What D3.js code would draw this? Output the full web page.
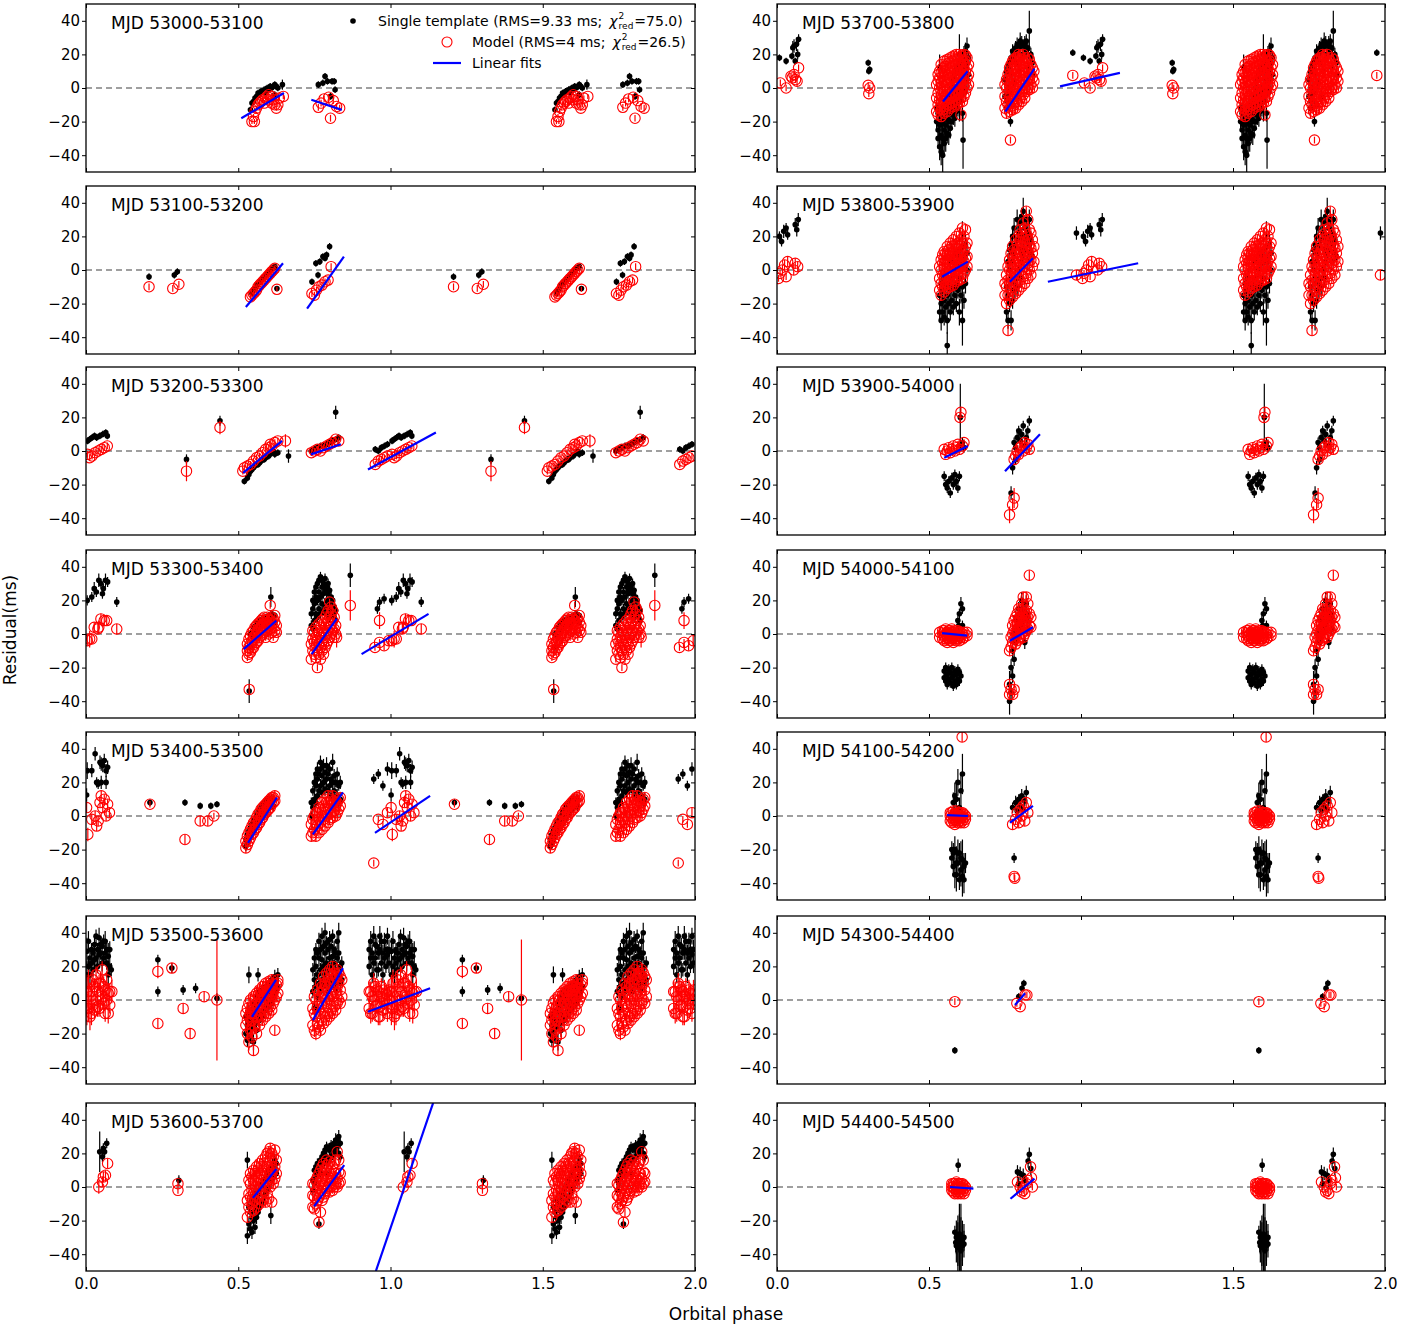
<!DOCTYPE html>
<html><head><meta charset="utf-8">
<script src="https://cdn.jsdelivr.net/npm/d3@7"></script>
<style>body{margin:0;background:#fff}svg text{font-family:"DejaVu Sans",sans-serif}</style>
</head><body><svg id="c" width="1427" height="1329"></svg>
<script>
// ---------- DATA: each row = [orbital phase (0-1), error (ms), residual values (ms) ...]; plotted at phase and phase+1 ----------
const yTicks=[-40,-20,0,20,40];
const xTicks=[0,0.5,1,1.5,2];
const xTickLabels=["0.0","0.5","1.0","1.5","2.0"];
const panelLabels=["MJD 53000-53100","MJD 53100-53200","MJD 53200-53300","MJD 53300-53400","MJD 53400-53500","MJD 53500-53600","MJD 53600-53700",
"MJD 53700-53800","MJD 53800-53900","MJD 53900-54000","MJD 54000-54100","MJD 54100-54200","MJD 54300-54400","MJD 54400-54500"];

const black_53000=[[0.54,2,-13],[0.545,2,-9],[0.55,2,-8],[0.555,2,-6],[0.56,2,-5],[0.565,2,-3],[0.57,2,-4],[0.575,2,-2],[0.58,2,-2],[0.585,2,-1],[0.59,2,-3],[0.595,2,0],[0.6,2,-1],[0.605,2,1],[0.61,2,0],[0.615,2,1],[0.62,2,2,-4],[0.625,2,1],[0.63,2,0],[0.645,3,2],
[0.763,2,2],[0.778,2,3],[0.785,2,7],[0.793,2,4],[0.808,2,4],[0.815,2,4],[0.818,2,-1],[0.803,2,-5]];
const red_53000=[[0.545,1.5,-20],[0.553,1.5,-20],[0.55,1.5,-17],[0.555,1.5,-14],[0.56,1.5,-12],[0.565,1.5,-10],[0.57,1.5,-9],[0.575,1.5,-8],[0.58,1.5,-7],[0.585,1.5,-9],[0.59,1.5,-6],[0.595,1.5,-5],[0.6,1.5,-4,-7],[0.61,1.5,-5,-9],[0.615,1.5,-7],[0.62,1.5,-10],[0.625,1.5,-12],[0.63,1.5,-10],[0.635,1.5,-6],[0.648,1.5,-5],
[0.763,2,-11.5],[0.772,2,-9],[0.782,2,-6.5],[0.797,2,-5.5],[0.803,2,-18],[0.812,2,-7.5],[0.823,2,-11],[0.833,2,-12]];
const fits_53000=[[0.51,-18,0.65,-3],[0.74,-7,0.84,-13]];

const black_53100=[[0.207,2,-4],[0.29,2,-3],[0.3,2,-1],
[0.545,1.5,-14],[0.55,1.5,-12],[0.555,1.5,-11],[0.56,1.5,-9],[0.565,1.5,-8],[0.57,1.5,-7],[0.575,1.5,-6],[0.58,1.5,-5],[0.585,1.5,-4],[0.59,1.5,-3],[0.595,1.5,-2],[0.6,1.5,-1],[0.605,1.5,0],[0.61,1.5,1],[0.615,1.5,1],[0.62,1.5,2],[0.627,1.5,-11],
[0.742,2,-7],[0.755,2,4],[0.762,2,-3],[0.768,2,5],[0.778,2,8],[0.785,2,7],[0.79,2,9],[0.8,2,14]];
const red_53100=[[0.207,2,-10],[0.285,2,-11],[0.305,2,-8.5],
[0.54,1.5,-16],[0.545,1.5,-15],[0.55,1.5,-14],[0.555,1.5,-13],[0.56,1.5,-12],[0.565,1.5,-10],[0.57,1.5,-9],[0.575,1.5,-8],[0.58,1.5,-7],[0.585,1.5,-6],[0.59,1.5,-5],[0.595,1.5,-4],[0.6,1.5,-3],[0.605,1.5,-2],[0.61,1.5,-1],[0.615,1.5,0],[0.62,1.5,1],[0.627,1.5,-11.5],
[0.742,2,-14],[0.75,2,-15],[0.757,2,-12],[0.765,2,-10],[0.775,2,-9],[0.785,2,-7],[0.795,2,-6],[0.805,2,2]];
const fits_53100=[[0.525,-22,0.647,4],[0.726,-23,0.847,8]];

const black_53200=[[0.005,2,6],[0.012,2,7],[0.02,2,8],[0.028,2,9],[0.035,2,8],[0.045,2,9],[0.055,2,10],[0.065,2,11],[0.07,2,9],
[0.33,3,-5],[0.44,3,18],
[0.52,2,-18],[0.53,2,-16],[0.535,2,-14],[0.54,2,-12],[0.545,2,-11],[0.55,2,-10],[0.555,2,-9],[0.56,2,-8],[0.565,2,-8],[0.57,2,-7],[0.575,2,-6],[0.58,2,-5],[0.585,2,-5],[0.59,2,-4],[0.595,2,-3],[0.6,2,-3],[0.605,2,-2],[0.61,2,-1],[0.615,2,0],[0.62,2,-2],[0.63,2,-1],[0.665,4,-3],
[0.74,2,0],[0.75,2,1],[0.76,2,2],[0.77,2,3],[0.78,2,3],[0.79,2,4],[0.8,2,5],[0.81,2,6],[0.82,2,7],[0.83,2,8],[0.82,4,23],
[0.95,2,1],[0.96,2,0],[0.97,2,2],[0.98,2,3],[0.99,2,4]];
const red_53200=[[0.005,2,-2],[0.012,2,-4],[0.02,2,-3],[0.03,2,-1],[0.04,2,0],[0.05,2,1],[0.06,2,2],[0.07,2,3],
[0.33,6,-12],[0.44,4,14],
[0.515,2,-12],[0.52,2,-10],[0.53,2,-9],[0.54,2,-8],[0.55,2,-6],[0.56,2,-4],[0.57,2,-3],[0.58,2,-1],[0.59,2,1],[0.6,2,2],[0.605,2,4],[0.61,2,3],[0.62,2,5],[0.63,2,6],[0.655,4,6],
[0.74,2,-1],[0.75,2,0],[0.76,2,1],[0.77,2,0],[0.78,2,2],[0.79,2,3],[0.8,2,4],[0.81,2,5],[0.82,2,7],[0.83,2,6],
[0.95,2,-8],[0.96,2,-6],[0.97,2,-5],[0.98,2,-4],[0.99,2,-3]];
const fits_53200=[[0.516,-13,0.644,6],[0.739,-2,0.837,4],[0.926,-11,1.149,11]];

const black_53300=[[0.004,3,20],[0.019,3,22],[0.027,4,27],[0.034,3,25],[0.042,4,32],[0.049,3,30],[0.054,3,24],[0.057,3,27],[0.064,4,32],[0.071,3,31],[0.101,3,19],
[0.957,3,15],[0.964,3,19],[0.979,3,21],
[0.536,7,-34],[0.54,2,-8,0],[0.55,2,-2,4],[0.56,2,2,6],[0.57,2,4,8],[0.58,2,5,9],[0.59,2,6,10],[0.6,2,8,11],[0.607,6,22],[0.61,2,9,12],[0.62,2,7,11],
[0.74,3,5,12],[0.745,3,3,15,20],[0.75,3,8,18,25],[0.755,3,12,22,28],[0.76,3,10,20,30],[0.765,3,15,25,32],[0.77,3,12,22,34],[0.775,3,18,28,32],[0.78,3,14,24,30],[0.785,3,16,26,33],[0.79,3,12,20,28],[0.795,3,15,24,30],[0.8,3,10,18,26],[0.805,3,14,22],[0.81,3,12,20],[0.815,3,10,16],[0.82,3,8,14],[0.868,7,35]];
const red_53300=[[0.004,3,-4],[0.012,5,-3],[0.019,3,-3],[0.027,3,4],[0.039,3,3],[0.042,4,4],[0.049,3,9],[0.06,3,8],[0.068,3,8],[0.101,3,3],
[0.949,2,-8],[0.964,2,-5],[0.964,5,8],[0.979,3,-7],[0.994,3,-4],
[0.53,2,-14,-10,-6],[0.535,2,-12,-8,-3],[0.536,3,-33],[0.54,2,-11,-6,-1],[0.545,2,-9,-4,1],[0.55,2,-8,-3,2],[0.555,2,-6,-1,4],[0.56,2,-5,0,5],[0.565,2,-4,1,6],[0.57,2,-2,3,7],[0.575,2,-1,4,8],[0.58,2,0,5,9],[0.585,2,1,6,10],[0.59,2,-2,3,8],[0.595,2,2,6,10],[0.6,2,0,5,9],[0.605,2,3,8,17],[0.61,2,1,6,10],[0.615,2,-2,4,9],[0.62,2,2,7,11],[0.625,2,1,5],
[0.74,2,-15,-6],[0.745,2,-10,-3,2],[0.75,2,-12,-5,1],[0.755,2,-14,-8,-2,4],[0.76,2,-20,-10,-4,2],[0.765,2,-12,-6,0,6],[0.77,2,-15,-8,-2,4],[0.775,2,-10,-4,2,8],[0.78,2,-12,-6,0,6],[0.785,2,-8,-2,4,10],[0.79,2,-6,0,6,12],[0.795,2,-4,2,8,14],[0.8,2,-2,4,10,19],[0.805,2,0,6,12,16],[0.81,2,2,8,14],[0.815,2,-2,3,10],[0.82,2,0,5],[0.823,6,-2],[0.868,9,17]];
const fits_53300=[[0.518,-9,0.625,8],[0.741,-12,0.823,9],[0.905,-12,1.125,12]];

const black_53400=[[0.002,4,12.5],[0.004,5,27],[0.019,4,27],[0.03,4,37],[0.035,3,20],[0.046,4,32],[0.05,4,31,20],[0.055,4,30],[0.06,4,33],[0.066,4,27,20],[0.071,4,29],[0.04,3,19],
[0.21,2,8],[0.325,2,8],[0.375,2,6],[0.41,2,6],[0.43,2,7],
[0.945,3,22],[0.96,3,25],[0.975,3,18],[0.99,4,28],
[0.525,3,-18,-14],[0.53,3,-16,-11],[0.535,3,-14,-9],[0.54,3,-12,-7],[0.545,3,-10,-5],[0.55,3,-9,-3],[0.555,3,-7,-2],[0.56,3,-6,0],[0.565,3,-4,2],[0.57,3,-3,3],[0.575,3,-1,5],[0.58,3,0,6],[0.585,3,2,7],[0.59,3,3,8],[0.595,3,4,9],[0.6,3,5,10],[0.605,3,6,9],[0.61,3,7,10],[0.615,3,6,10],
[0.74,3,0,8],[0.745,3,5,15],[0.75,4,10,20],[0.755,3,8,18,25],[0.76,4,12,22,28],[0.765,3,15,25],[0.77,4,18,28,32],[0.775,3,14,24],[0.78,4,20,30],[0.785,4,16,26],[0.79,5,22,30],[0.795,3,15,25],[0.8,4,18,28],[0.805,3,12,22],[0.81,5,20,32],[0.815,4,15,24],[0.82,3,10,20],[0.825,4,12,25],[0.83,3,8,18],[0.835,4,10,20]];
const red_53400=[[0.002,3,5],[0.006,4,-11],[0.019,3,-2],[0.03,3,0],[0.035,3,-6],[0.04,3,-3],[0.046,3,8],[0.05,3,12],[0.055,3,5],[0.06,3,10],[0.066,3,0],[0.071,3,7],[0.077,3,2],
[0.21,2,7],[0.325,3,-14],[0.375,3,-3],[0.4,3,-3],[0.42,2,0],
[0.945,2,-28],[0.96,2,-2],[0.975,2,-5],[0.99,3,2],
[0.525,3,-19,-15],[0.53,3,-17,-12],[0.535,3,-15,-10],[0.54,3,-13,-8],[0.545,3,-11,-6],[0.55,3,-10,-4],[0.555,3,-8,-3],[0.56,3,-7,-1],[0.565,3,-5,1],[0.57,3,-4,2],[0.575,3,-2,4],[0.58,3,-1,5],[0.585,3,1,6],[0.59,3,2,7],[0.595,3,3,8],[0.6,3,4,9],[0.605,3,5,10],[0.61,3,7,11],[0.615,3,8,11],[0.62,3,9,12],
[0.74,3,-12,-5],[0.745,3,-10,-2],[0.75,3,-8,0],[0.755,3,-12,-4,2],[0.76,3,-6,2],[0.765,3,-10,-2,5],[0.77,3,-4,4],[0.775,3,-8,0,8],[0.78,3,-2,6],[0.785,3,-6,2,10],[0.79,3,0,8],[0.795,3,-4,4,12],[0.8,3,-2,6],[0.805,3,2,10],[0.81,3,-1,7,12],[0.815,3,3,9],[0.82,3,0,6],[0.825,3,2,8],[0.83,3,4,10],[0.835,3,6,11]];
const fits_53400=[[0.532,-16,0.627,11],[0.745,-11,0.844,14],[0.949,-10,1.13,12]];

const black_53500=[[0.003,8,29,15],[0.008,6,20,35],[0.013,5,15,25],[0.018,4,22,30],[0.023,4,28,18],[0.028,5,33,24],[0.033,4,25,38],[0.038,4,30,20],[0.043,6,37,27],[0.048,4,28,33],[0.053,5,32,22],[0.058,4,25,35],[0.063,6,35,28],[0.068,4,22,30],[0.073,8,15,26],[0.078,5,30,20],[0.083,4,18],
[0.236,3,24,5],[0.282,3,19],[0.319,3,6],[0.36,3,7],[0.43,3,1],
[0.525,4,-20,-10],[0.53,4,-24,-15],[0.535,5,-18,-8,15],[0.54,4,-22,-12],[0.545,4,-16,-6],[0.55,5,-25,-12,-2],[0.555,4,-14,-4],[0.56,4,-18,-8,2],[0.565,4,-10,0,15],[0.57,3,-12,-2,5],[0.575,3,-8,2],[0.58,3,-10,0,6],[0.585,3,-5,4],[0.59,3,-6,2,8],[0.595,3,-2,6],[0.6,3,-4,4,10],[0.605,3,0,8],[0.61,3,-2,6,12],[0.615,3,2,10],[0.62,4,4,14],[0.625,3,6,12],[0.63,4,8,15],
[0.745,4,5,18],[0.75,4,-5,12,25],[0.755,4,8,20,30],[0.76,3,2,15,28],[0.765,5,10,25,35],[0.77,4,5,18,30],[0.775,5,12,24,38],[0.78,4,8,20,32],[0.785,6,15,28,40],[0.79,4,10,22,34],[0.795,3,5,18,30],[0.8,5,12,25,36],[0.805,4,8,20,32],[0.81,4,14,26,38],[0.815,5,10,22,30],[0.82,4,6,18,28],[0.825,5,12,25,35],[0.83,6,15,28,40],[0.835,4,10,20],[0.84,4,12,22],
[0.93,5,20,30],[0.935,6,35,25],[0.94,5,28,15],[0.945,6,38,22],[0.95,5,25,33],[0.955,5,32,18],[0.96,4,18,28],[0.965,6,30,38],[0.97,5,22,35],[0.975,5,28,15],[0.98,5,35,25],[0.985,4,20,30],[0.99,5,27,38],[0.995,6,30,22]];
const red_53500=[[0.003,10,5,-5],[0.008,8,-5,10],[0.013,8,2,-10],[0.018,7,-8,5],[0.023,6,-3,12],[0.028,5,8,-6],[0.033,5,0,15],[0.038,6,5,-4],[0.043,5,-5,10],[0.048,6,10,0],[0.053,5,2,18],[0.058,6,-2,8],[0.063,5,6,-8],[0.068,5,0,12],[0.073,6,-8,4],[0.078,5,5,-3],[0.085,7,5],
[0.236,4,17],[0.236,3,-14],[0.282,3,19],[0.319,3,-5],[0.342,3,-20],[0.388,3,2],[0.43,36,0],
[0.525,4,-15,-8],[0.53,4,-20,-12,-5],[0.535,5,-25,-10,-2],[0.54,4,-18,-8,0],[0.545,4,-22,-12,-4],[0.55,3,-30,-15,-6,2],[0.555,4,-16,-8,0],[0.56,4,-20,-10,-2,4],[0.565,3,-12,-4,3],[0.57,4,-15,-6,2,6],[0.575,3,-10,-2,5],[0.58,3,-12,-4,3,8],[0.585,3,-8,0,6],[0.59,3,-10,-2,5,10],[0.595,3,-6,2,8],[0.6,3,-8,0,6,11],[0.605,3,-4,3,9],[0.61,3,-6,2,8,12],[0.615,3,-2,5,10],[0.62,3,-18,0,7],[0.625,3,2,9],[0.63,3,4,10,12],
[0.745,4,-15,-5],[0.75,4,-18,-8,2],[0.755,4,-20,-10,0],[0.76,4,-14,-4,6],[0.765,4,-16,-6,4],[0.77,3,-18,-8,2,10],[0.775,4,-12,-2,8],[0.78,3,-14,-4,6,14],[0.785,4,-10,0,10],[0.79,3,-12,-2,8,16],[0.795,3,-8,2,12],[0.8,3,-10,0,10,18],[0.805,4,-6,4,15],[0.81,3,-8,2,12,20],[0.815,3,-4,6,16],[0.82,3,-6,4,14],[0.825,4,-2,8,18],[0.83,3,0,10,16],[0.835,3,-2,6,14],[0.84,4,2,12],
[0.93,6,-5,5],[0.935,6,5,-8],[0.94,5,-8,2],[0.945,6,0,10],[0.95,5,8,-4],[0.955,5,-3,6],[0.96,5,5,-10],[0.965,5,-10,2],[0.97,5,2,8],[0.975,5,-2,-6],[0.98,6,6,0],[0.985,5,-5,4],[0.99,5,3,-8],[0.995,6,0,6]];
const fits_53500=[[0.545,-10,0.624,12],[0.745,-12,0.844,19],[0.926,-7,1.13,7]];

const black_53600=[[0.045,12,21],[0.054,3,18],[0.057,3,23],[0.061,3,21],[0.068,3,26],
[0.305,3,4],
[0.53,5,16,-29],[0.535,4,-22,-12],[0.54,4,-25,-15],[0.545,4,-27,-18,-8],[0.55,4,-20,-10],[0.555,4,-24,-14,-4],[0.56,4,-18,-8],[0.565,3,-15,-5],[0.57,3,-12,-2],[0.575,3,-10,0],[0.58,3,-8,2],[0.585,3,-6,4],[0.59,3,-4,6],[0.595,3,-2,8],[0.6,3,0,10],[0.607,5,-17],[0.61,3,4,12],[0.615,3,6,14],[0.62,4,10,16],[0.625,3,8,14],
[0.745,3,4,-2],[0.75,3,2,10],[0.755,3,5,12],[0.76,3,8,14],[0.765,3,-22,10],[0.77,3,8,16],[0.775,3,12,18],[0.78,3,14,20],[0.785,3,16,22],[0.79,3,8,18,24],[0.795,3,15,23],[0.8,3,16,22],[0.805,3,18,25],[0.81,3,19,24],[0.815,3,20,26],[0.82,4,22,28],[0.825,3,24,28],[0.83,4,20,30],[0.835,3,18,26]];
const red_53600=[[0.042,4,0],[0.054,3,3],[0.057,3,6],[0.064,3,7],[0.071,3,14],
[0.302,2,2,-2],
[0.53,3,-18,-8],[0.535,3,-12,-4,4],[0.54,3,-15,-6,2,8],[0.545,3,-10,-2,6],[0.55,3,-14,-4,4,10],[0.555,3,-8,0,8],[0.56,4,-12,-2,6,12],[0.565,3,-6,2,10],[0.57,3,-10,0,8,14],[0.575,3,-4,4,12],[0.58,3,-8,2,10,16],[0.585,3,-2,6,14],[0.59,3,-9,0,8,18],[0.595,3,-4,4,12,20],[0.6,3,-7,2,10,21],[0.605,3,0,8,16,23],[0.61,3,-9,4,12,20],[0.615,3,2,10,18],[0.62,3,5,12,22],[0.625,3,8,16],
[0.745,2,-12,-5,2],[0.75,2,-13,-6,1],[0.755,2,-10,-3,4],[0.76,2,-8,-1,6],[0.765,3,-21,-6,1,8],[0.77,3,-15,-4,3,10],[0.775,2,-8,-2,5,12],[0.78,2,-6,0,7,14],[0.785,2,-4,2,9],[0.79,2,-2,4,11,16],[0.795,2,0,6,13],[0.8,2,-3,2,8,15],[0.805,2,0,5,10],[0.81,2,-2,4,12],[0.815,2,0,6,14],[0.82,2,2,8,16],[0.825,2,0,5,21],[0.83,2,2,9,16],[0.835,2,3,8]];
const fits_53600=[[0.548,-6.5,0.625,10.7],[0.749,-11.5,0.848,13],[0.952,-50,1.14,50]];

const black_53700=[[0.008,2,18],[0.03,2,16],[0.049,2,19],[0.052,4,24],[0.056,4,25],[0.064,4,26],[0.068,3,20],[0.071,3,29],[0.06,2,16],
[0.973,2,21],[0.3,2,15],[0.302,2,10],[0.305,2,11],
[0.525,5,-20,-12],[0.53,6,-25,-15,-30],[0.535,8,-22,-35,12],[0.54,8,-28,-18,-38],[0.545,10,-30,-20,-40],[0.55,8,-25,-33,-15],[0.555,8,-22,-30,-12],[0.56,6,-18,-27,-8],[0.565,6,-20,-10,-28],[0.57,6,-15,-24,-5],[0.575,5,-12,-20,0],[0.58,6,-16,-8,5],[0.585,5,-10,-18,8],[0.59,5,-6,-14,10],[0.595,5,-12,-3,12],[0.6,12,20,-8,0],[0.605,5,-5,5,15],[0.61,5,-15,2,18],[0.612,17,-31],[0.615,5,0,10,20],[0.62,5,-2,12,22],[0.625,5,5,15,25],[0.63,4,8,18],
[0.75,4,-5,5],[0.755,5,-12,10],[0.76,4,12,0,-8],[0.765,4,15,-3],[0.768,3,-20],[0.77,4,8,18],[0.775,4,18,22,-10],[0.78,4,3,20],[0.785,4,15,24],[0.79,4,22,26,-5],[0.795,4,10,24],[0.8,5,25,28],[0.805,4,17,27],[0.81,4,20,25],[0.815,5,26,22],[0.82,4,22,28],[0.825,4,12,24],[0.83,12,34],[0.835,4,18,20],[0.84,4,8,15]];
const red_53700=[[0.011,2,3],[0.03,2,0],[0.046,2,7],[0.05,2,6],[0.056,2,8],[0.061,2,5],[0.066,3,4],[0.071,2,12],
[0.973,2,7.5],[0.3,2,1.6],[0.302,2,-3.4],[0.305,2,0],
[0.525,3,-14,-6,2],[0.53,3,-16,-10,-3,4,8],[0.535,3,-12,-7,0,6,10],[0.54,3,-17,-9,-4,3,9,14],[0.545,3,-13,-6,1,7,12],[0.55,3,-15,-8,-2,4,10,16],[0.555,3,-11,-5,2,8,13],[0.56,3,-14,-7,-1,5,11,17],[0.565,3,-10,-4,3,9,15],[0.57,3,-12,-6,0,6,12,18],[0.575,3,-9,-3,4,10,16],[0.58,3,-11,-5,1,7,13,19],[0.585,3,-8,-2,5,11,17],[0.59,3,-10,-4,2,8,14,20],[0.595,3,-7,-1,6,12,18],[0.6,3,-9,-3,3,9,15,20],[0.605,3,-16,-6,0,7,13,19],[0.61,3,-8,-2,4,10,16],[0.615,3,-5,1,8,14,20],[0.62,3,-3,3,10,16,19.5],[0.625,3,0,6,12,18],[0.63,3,2,8,14],
[0.75,3,-12,-5,2],[0.755,3,-15,-8,0,5],[0.76,3,-10,-3,4,8],[0.765,3,-14,-6,1,7,12],[0.768,2,-31],[0.77,3,-11,-4,3,10,14],[0.775,3,-13,-7,0,6,12,16],[0.78,3,-9,-2,5,11,17],[0.785,3,-12,-5,2,8,14,18],[0.79,3,-8,-1,6,12,18],[0.795,3,-10,-3,4,10,16,20],[0.8,3,-6,0,7,13,19],[0.805,3,-8,-2,5,11,17],[0.81,3,-4,2,9,15,20],[0.815,3,-6,0,7,13,18],[0.82,3,-2,4,10,16],[0.825,3,0,6,12,18],[0.83,3,-1,5,11,17],[0.835,3,2,8,14],[0.84,3,0,6,12],[0.845,3,4,10]];
const fits_53700=[[0.546,-8,0.627,10],[0.751,-14,0.847,11.5],[0.931,1,1.128,9]];

const black_53800=[[0.008,3,20],[0.015,3,17],[0.022,4,23],[0.03,3,25],[0.035,3,21],[0.06,4,27],[0.065,4,24],[0.07,4,30],[0.985,4,22],
[0.535,5,-15,-25],[0.54,6,-20,-8,-30],[0.545,6,-25,-12],[0.55,5,-18,-28,-5],[0.555,5,-22,-10],[0.56,8,-30,-15,-45],[0.565,5,-20,-8],[0.57,5,-25,-12,5],[0.575,6,-18,-5],[0.58,5,-22,-10,8],[0.585,5,-15,0],[0.59,5,-20,-8,10],[0.595,5,-12,4],[0.6,8,-25,-5,12],[0.605,5,-15,8],[0.61,15,-30,-10,14],[0.615,5,-18,5],[0.62,6,-8,15],[0.625,4,0,10],
[0.755,6,-25,-10],[0.76,5,-30,-15,5],[0.765,5,-20,0,12],[0.77,6,-30,-8,15],[0.775,5,-18,5,20],[0.78,6,-12,10,25],[0.785,5,-5,15],[0.79,6,-10,18,30],[0.795,5,0,22],[0.8,5,-5,12,28],[0.805,5,5,20,32],[0.81,8,10,35],[0.815,5,12,25],[0.82,5,18,30],[0.825,5,5,22],[0.83,6,15,30],[0.835,5,10,18],[0.84,4,8]];
const red_53800=[[0.005,2,-5],[0.01,2,-2],[0.018,3,0],[0.025,3,3],[0.03,2,-4],[0.035,3,5],[0.055,3,0],[0.06,3,4],[0.068,3,2],[0.985,3,-3],
[0.535,3,-12,-5,2],[0.54,3,-15,-8,0,6],[0.545,3,-10,-3,4,9],[0.55,3,-13,-6,1,7,11],[0.555,3,-9,-2,5,10],[0.56,3,-11,-4,3,9,14],[0.565,3,-8,-1,6,12],[0.57,3,-10,-3,4,10,16],[0.575,3,-6,1,8,14],[0.58,3,-9,-2,5,11,18],[0.585,3,-5,2,9,15],[0.59,3,-7,0,7,13,20],[0.595,3,-4,3,10,16],[0.6,3,-6,1,8,14,22],[0.605,3,-3,4,11,18],[0.61,3,-5,2,9,16,25],[0.615,3,-2,5,12,20],[0.62,3,0,7,14,24],[0.625,3,2,8,16],
[0.75,3,-15,-8],[0.755,3,-20,-10,-3],[0.76,3,-36,-15,-6,2],[0.765,3,-18,-8,0,6],[0.77,3,-12,-4,3,10],[0.775,3,-16,-6,1,8,14],[0.78,3,-10,-2,5,12],[0.785,3,-14,-4,3,10,18],[0.79,3,-8,0,7,15],[0.795,3,-12,-2,5,12,20],[0.8,3,-6,2,9,17,24],[0.805,3,-10,0,7,14,22],[0.81,3,-4,4,11,19,28],[0.815,3,-8,2,9,16,25],[0.82,3,-2,6,13,21,35],[0.825,3,-5,4,11,18,30],[0.83,3,0,8,15,24],[0.835,3,-3,6,13,22],[0.84,3,2,10,18],[0.845,3,5,14]];
const fits_53800=[[0.543,-4,0.628,5],[0.766,-7,0.842,7],[0.891,-7,1.188,4]];

const black_53900=[[0.55,3,-15],[0.555,3,-20],[0.56,3,-22],[0.565,3,-18],[0.57,3,-25],[0.575,3,-16],[0.58,3,-20],[0.585,3,-14],[0.59,3,-18],[0.595,3,-22],[0.6,3,-15],[0.603,20,20],[0.605,3,3],[0.61,3,5],[0.615,3,2],
[0.77,4,-25],[0.775,4,-10],[0.78,3,5],[0.785,3,2,-5],[0.79,3,8],[0.795,3,12],[0.8,3,6],[0.805,3,10],[0.81,3,15],[0.815,3,3],[0.82,3,8],[0.825,3,12],[0.83,3,18]];
const red_53900=[[0.55,2,1],[0.555,2,-2],[0.56,2,0],[0.565,2,2],[0.57,2,-1],[0.575,2,1],[0.58,2,3],[0.585,2,0],[0.59,2,2],[0.595,2,4],[0.6,2,1],[0.605,3,23],[0.61,2,3],[0.615,2,5],[0.602,3,20],
[0.765,5,-38],[0.775,4,-32],[0.78,3,-5],[0.785,3,-3],[0.79,3,0],[0.795,3,-2],[0.8,3,2],[0.805,3,3],[0.81,3,0],[0.815,3,5],[0.82,3,2],[0.825,3,4],[0.83,3,1],[0.78,6,-28]];
const fits_53900=[[0.55,-4,0.628,3],[0.75,-12,0.865,10]];

const black_54000=[[0.55,3,-22,-26],[0.555,3,-20,-28],[0.56,3,-24,-30],[0.565,3,-21,-27],[0.57,3,-23,-29],[0.575,3,-20,-26],[0.58,3,-25,-31],[0.585,3,-22,-28],[0.59,3,-24,-30],[0.595,3,-21,-27,8],[0.6,3,-23,-28,12],[0.605,4,-25,18],[0.61,3,15,5],[0.598,3,5],
[0.765,8,-40,-30],[0.77,5,-35,-20],[0.775,4,-25,-10],[0.78,4,-15,0],[0.785,4,-5,10],[0.79,4,0,5],[0.795,4,8,15],[0.8,4,5,12],[0.805,5,12,20],[0.81,4,8,15],[0.815,4,-5,10],[0.82,5,12,18],[0.825,4,3,10]];
const red_54000=[[0.535,2,-2,1],[0.545,2,-3,0,2],[0.55,2,-4,-1,2],[0.555,2,-3,0,3],[0.56,2,-5,-2,1],[0.565,2,-3,0,2],[0.57,2,-4,-1,2],[0.575,2,-3,0,3],[0.58,2,-5,-2,1],[0.585,2,-3,0,2],[0.59,2,-4,-1,2],[0.595,2,-3,0,2],[0.6,2,-4,-1,1],[0.605,2,-2,1],[0.61,2,-3,0],[0.615,2,-2,1],[0.625,2,-1,1],
[0.765,3,-36,-30,-10],[0.77,3,-33,-8,-2],[0.775,3,-36,-5,0,5],[0.78,3,-33,-3,2,8],[0.785,3,-6,0,5,10],[0.79,3,-4,2,7,12],[0.795,3,-2,4,9,15],[0.8,3,-3,3,8,14],[0.805,3,0,5,11,18],[0.81,3,-2,4,10,15,22],[0.815,3,0,6,12],[0.82,3,2,8,14,22],[0.825,3,3,10,18],[0.83,3,5,12,35],[0.835,3,4,10]];
const fits_54000=[[0.543,0.5,0.625,-1],[0.766,-4,0.842,4]];

const black_54100=[[0.575,5,-25,-20],[0.58,6,-30,-22,8],[0.585,8,-20,-35,12],[0.59,10,-35,-28,10],[0.595,8,-28,-22,20],[0.6,6,-22,-38,5],[0.605,10,-32,-25,15],[0.61,12,-26,-36,25],[0.615,8,-38,-30],[0.62,6,-28],
[0.78,3,-25],[0.775,3,5],[0.785,4,8],[0.79,3,3],[0.795,3,10],[0.8,3,6],[0.805,4,12],[0.81,3,4],[0.815,3,9],[0.82,4,14]];
const red_54100=[[0.57,2,-3,0,2],[0.575,2,-4,-1,2],[0.58,2,-3,0,3],[0.585,2,-5,-2,1],[0.59,2,-3,0,3],[0.595,2,-4,-1,2],[0.6,2,-3,0,2],[0.605,2,-4,-1,2],[0.61,2,-3,0,2],[0.615,2,-4,-1,1],[0.62,2,-2,0],[0.609,3,47],
[0.78,2,-36],[0.782,2,-37],[0.775,3,-5],[0.785,3,-2],[0.79,3,2],[0.795,3,-4],[0.8,3,4],[0.805,3,0],[0.81,3,6],[0.815,3,-3],[0.82,3,8],[0.825,3,2]];
const fits_54100=[[0.559,0.5,0.628,0],[0.766,-4,0.842,6]];

const black_54300=[[0.585,2,-30],[0.806,2,7],[0.812,2,10],[0.795,2,2]];
const red_54300=[[0.585,2,-1],[0.789,2,-2],[0.8,2,-4],[0.816,2,3],[0.822,2,3]];
const fits_54300=[[0.783,-3,0.816,4]];

const black_54400=[[0.596,4,13],[0.585,4,-27],[0.588,6,-33],[0.59,10,-30,-35],[0.595,15,-32,-36],[0.6,18,-28,-34],[0.605,20,-30,-38],[0.61,12,-32,-35],[0.615,8,-30,-34],
[0.791,4,9],[0.8,4,8],[0.81,4,7],[0.826,4,15.5],[0.83,4,19.5],[0.835,4,11],[0.815,4,4],[0.795,4,2]];
const red_54400=[[0.575,2,-2,0,2],[0.58,2,-3,0,2],[0.585,2,-4,-1,2],[0.59,2,-3,0,3],[0.595,2,-4,-1,2],[0.6,2,-3,0,2],[0.605,2,-4,-1,2],[0.61,2,-3,0,2],[0.615,2,-4,-1,1],[0.62,2,-2,0],
[0.791,2,3],[0.8,2,0],[0.81,2,-2],[0.815,2,-4],[0.82,2,2],[0.834,2,12],[0.837,2,5.5],[0.84,2,0],[0.805,2,-3],[0.825,2,4]];
const fits_54400=[[0.569,0,0.646,-1],[0.768,-7,0.847,5]];

const panelBlack=[black_53000,black_53100,black_53200,black_53300,black_53400,black_53500,black_53600,black_53700,black_53800,black_53900,black_54000,black_54100,black_54300,black_54400];
const panelRed=[red_53000,red_53100,red_53200,red_53300,red_53400,red_53500,red_53600,red_53700,red_53800,red_53900,red_54000,red_54100,red_54300,red_54400];
const panelFits=[fits_53000,fits_53100,fits_53200,fits_53300,fits_53400,fits_53500,fits_53600,fits_53700,fits_53800,fits_53900,fits_54000,fits_54100,fits_54300,fits_54400];

// ---------- LAYOUT ----------
const colX=[[86,695],[777,1385]];
const rowTop=[4,186,367,550,732,916,1103];
const PH=168;
const svg=d3.select("#c");
const fmt=d=>d<0?"\u2212"+Math.abs(d):String(d);
// expand rows into points [phase, value, err], shown at phase and phase+1
const expand=rows=>rows.flatMap(r=>r.slice(2).flatMap(v=>{
  const a=[[r[0],v,r[1]]]; if(r[0]+1<=2)a.push([r[0]+1,v,r[1]]); return a;}));

panelLabels.forEach((lab,i)=>{
  const col=i<7?0:1,row=i%7;
  const [x0,x1]=colX[col],top=rowTop[row];
  const x=d3.scaleLinear().domain([0,2]).range([x0,x1]);
  const y=d3.scaleLinear().domain([-50,50]).range([top+PH,top]);
  const g=svg.append("g");
  const cid="clip"+i;
  svg.append("clipPath").attr("id",cid).append("rect").attr("x",x0).attr("y",top).attr("width",x1-x0).attr("height",PH);
  const pg=g.append("g").attr("clip-path",`url(#${cid})`);
  pg.append("line").attr("x1",x0).attr("x2",x1).attr("y1",y(0)).attr("y2",y(0))
    .attr("stroke","#808080").attr("stroke-width",1.5).attr("stroke-dasharray","6,4");
  const B=expand(panelBlack[i]),R=expand(panelRed[i]);
  pg.append("g").selectAll("line").data(B).join("line").attr("x1",d=>x(d[0])).attr("x2",d=>x(d[0]))
    .attr("y1",d=>y(d[1]-d[2])).attr("y2",d=>y(d[1]+d[2])).attr("stroke","#000").attr("stroke-width",1.2);
  pg.append("g").selectAll("circle").data(B).join("circle").attr("cx",d=>x(d[0])).attr("cy",d=>y(d[1])).attr("r",2.8).attr("fill","#000");
  pg.append("g").selectAll("line").data(R).join("line").attr("x1",d=>x(d[0])).attr("x2",d=>x(d[0]))
    .attr("y1",d=>y(d[1]-d[2])).attr("y2",d=>y(d[1]+d[2])).attr("stroke","#ff0000").attr("stroke-width",1.2);
  pg.append("g").selectAll("circle").data(R).join("circle").attr("cx",d=>x(d[0])).attr("cy",d=>y(d[1])).attr("r",5.2)
    .attr("fill","none").attr("stroke","#ff0000").attr("stroke-width",1.1);
  pg.append("g").selectAll("line").data(panelFits[i]).join("line").attr("x1",d=>x(d[0])).attr("y1",d=>y(d[1]))
    .attr("x2",d=>x(d[2])).attr("y2",d=>y(d[3])).attr("stroke","#0000ff").attr("stroke-width",2.2);
  const ax=(a)=>a.selectAll(".domain").remove();
  g.append("g").attr("transform",`translate(${x0},0)`).call(d3.axisLeft(y).tickValues(yTicks).tickSize(4).tickPadding(2).tickFormat(fmt))
    .call(ax).call(s=>s.selectAll("text").attr("font-size",15).attr("fill","#000").attr("font-family","DejaVu Sans"));
  g.append("g").attr("transform",`translate(${x1},0)`).call(d3.axisRight(y).tickValues(yTicks).tickSize(-4).tickFormat("")).call(ax);
  g.append("g").attr("transform",`translate(0,${top})`).call(d3.axisTop(x).tickValues(xTicks).tickSize(-4).tickFormat("")).call(ax);
  const bot=g.append("g").attr("transform",`translate(0,${top+PH})`)
    .call(d3.axisBottom(x).tickValues(xTicks).tickSize(-4).tickPadding(7).tickFormat((d,k)=>row===6?xTickLabels[k]:""))
    .call(ax);
  bot.selectAll("text").attr("font-size",15).attr("fill","#000").attr("font-family","DejaVu Sans");
  g.append("rect").attr("x",x0).attr("y",top).attr("width",x1-x0).attr("height",PH)
    .attr("fill","none").attr("stroke","#000").attr("stroke-width",1.3);
  g.append("text").attr("x",x0+25).attr("y",top+25).attr("font-size",17).text(lab);
});

// legend (first panel)
const L=svg.append("g").attr("font-size",14);
function chiEntry(xs,yb,pre,post){
  const t=L.append("text").attr("x",xs).attr("y",yb).text(pre);
  const w=t.node().getComputedTextLength();
  const cx=xs+w+7;
  const c=L.append("text").attr("x",cx).attr("y",yb).attr("font-family","DejaVu Serif").attr("font-style","italic").text("\u03c7");
  const cw=c.node().getComputedTextLength();
  L.append("text").attr("x",cx+cw+1).attr("y",yb-7).attr("font-size",9).text("2");
  const s=L.append("text").attr("x",cx+cw+1).attr("y",yb+3).attr("font-size",9).text("red");
  const sw=s.node().getComputedTextLength();
  L.append("text").attr("x",cx+cw+sw+2).attr("y",yb).text(post);
}
L.append("circle").attr("cx",353).attr("cy",21).attr("r",2.8).attr("fill","#000");
chiEntry(378,26,"Single template (RMS=9.33 ms;","=75.0)");
L.append("circle").attr("cx",447).attr("cy",42).attr("r",5).attr("fill","none").attr("stroke","#ff0000").attr("stroke-width",1.1);
chiEntry(472,47,"Model (RMS=4 ms;","=26.5)");
L.append("line").attr("x1",433).attr("x2",461).attr("y1",63).attr("y2",63).attr("stroke","#0000ff").attr("stroke-width",2.2);
L.append("text").attr("x",472).attr("y",68).text("Linear fits");

svg.append("text").attr("x",726).attr("y",1320).attr("text-anchor","middle").attr("font-size",17).text("Orbital phase");
svg.append("text").attr("transform","translate(16,630) rotate(-90)").attr("text-anchor","middle").attr("font-size",17).text("Residual(ms)");
</script></body></html>
